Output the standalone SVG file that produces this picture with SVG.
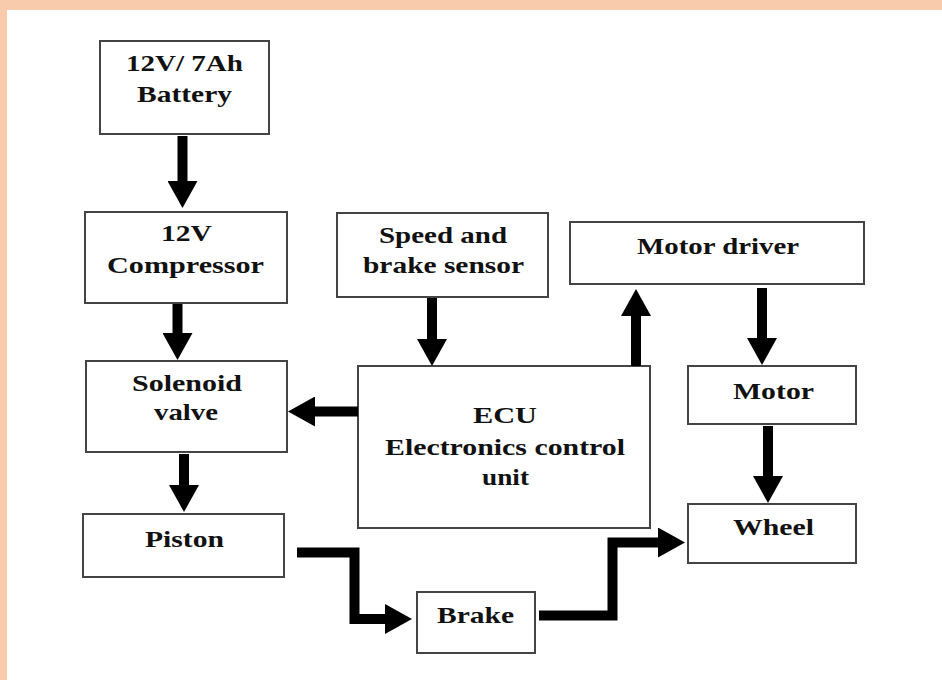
<svg xmlns="http://www.w3.org/2000/svg" width="942" height="680" viewBox="0 0 942 680">
<style>
.box{fill:#fff;stroke:#444;stroke-width:2}
.t{font-family:"Liberation Serif","Times New Roman",serif;font-weight:bold;font-size:23px;fill:#111;text-anchor:middle}
.c{fill:none;stroke:#000;stroke-width:10;stroke-linejoin:miter;stroke-linecap:butt}
</style>
<defs>
<marker id="ah" viewBox="0 0 27 30" refX="0" refY="15" markerWidth="27" markerHeight="30" markerUnits="userSpaceOnUse" orient="auto">
<path d="M0,0 L27,15 L0,30 Z" fill="#000"/>
</marker>
</defs>
<rect x="0" y="0" width="942" height="680" fill="#fff"/>
<rect x="0" y="0" width="942" height="10" fill="#f8cbad"/>
<rect x="0" y="0" width="7" height="680" fill="#f8cbad"/>

<g id="battery">
<rect class="box" x="100" y="41" width="169" height="93"/>
<text class="t" x="184.5" y="71" textLength="117" lengthAdjust="spacingAndGlyphs">12V/ 7Ah</text>
<text class="t" x="184.5" y="102" textLength="95" lengthAdjust="spacingAndGlyphs">Battery</text>
</g>
<g id="compressor">
<rect class="box" x="85" y="212" width="202" height="91"/>
<text class="t" x="186.5" y="241" textLength="51" lengthAdjust="spacingAndGlyphs">12V</text>
<text class="t" x="185.5" y="273" textLength="157" lengthAdjust="spacingAndGlyphs">Compressor</text>
</g>
<g id="solenoid">
<rect class="box" x="86" y="361" width="201" height="91"/>
<text class="t" x="187" y="391" textLength="110" lengthAdjust="spacingAndGlyphs">Solenoid</text>
<text class="t" x="186" y="420" textLength="64" lengthAdjust="spacingAndGlyphs">valve</text>
</g>
<g id="piston">
<rect class="box" x="83" y="514" width="201" height="63"/>
<text class="t" x="184.5" y="547" textLength="79" lengthAdjust="spacingAndGlyphs">Piston</text>
</g>
<g id="sensor">
<rect class="box" x="337" y="213" width="211" height="84"/>
<text class="t" x="443" y="243" textLength="128" lengthAdjust="spacingAndGlyphs">Speed and</text>
<text class="t" x="443.5" y="273" textLength="161" lengthAdjust="spacingAndGlyphs">brake sensor</text>
</g>
<g id="ecu">
<rect class="box" x="358" y="366" width="292" height="162"/>
<text class="t" x="505" y="423" textLength="64" lengthAdjust="spacingAndGlyphs">ECU</text>
<text class="t" x="505" y="455" textLength="240" lengthAdjust="spacingAndGlyphs">Electronics control</text>
<text class="t" x="505.5" y="485" textLength="47" lengthAdjust="spacingAndGlyphs">unit</text>
</g>
<g id="motordriver">
<rect class="box" x="570" y="222" width="294" height="62"/>
<text class="t" x="718" y="254" textLength="162" lengthAdjust="spacingAndGlyphs">Motor driver</text>
</g>
<g id="motor">
<rect class="box" x="688" y="366" width="168" height="58"/>
<text class="t" x="773.5" y="399" textLength="81" lengthAdjust="spacingAndGlyphs">Motor</text>
</g>
<g id="wheel">
<rect class="box" x="688" y="504" width="168" height="59"/>
<text class="t" x="773.5" y="535" textLength="81" lengthAdjust="spacingAndGlyphs">Wheel</text>
</g>
<g id="brake">
<rect class="box" x="417" y="592" width="118" height="61"/>
<text class="t" x="475.5" y="623" textLength="77" lengthAdjust="spacingAndGlyphs">Brake</text>
</g>

<g id="connectors">
<path class="c" d="M182.5,136 V181" marker-end="url(#ah)"/>
<path class="c" d="M177.5,304 V333" marker-end="url(#ah)"/>
<path class="c" d="M184,454 V485" marker-end="url(#ah)"/>
<path class="c" d="M432,298 V339" marker-end="url(#ah)"/>
<path class="c" d="M358,411.5 H315" marker-end="url(#ah)"/>
<path class="c" d="M636,366 V316" marker-end="url(#ah)"/>
<path class="c" d="M762,288 V338" marker-end="url(#ah)"/>
<path class="c" d="M768,426 V476" marker-end="url(#ah)"/>
<path class="c" d="M297,552.5 H354.5 V619 H385" marker-end="url(#ah)"/>
<path class="c" d="M539,615.5 H612.5 V542.5 H658" marker-end="url(#ah)"/>
</g>
</svg>
